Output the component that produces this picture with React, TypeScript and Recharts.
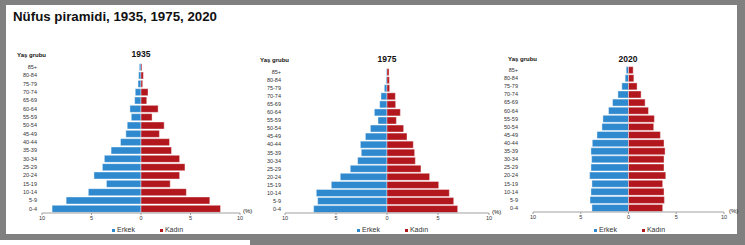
import { BarChart, Bar, XAxis, YAxis, Legend } from "recharts";

// age groups, top to bottom
const AGES = [
  "85+", "80-84", "75-79", "70-74", "65-69", "60-64", "55-59", "50-54", "45-49",
  "40-44", "35-39", "30-34", "25-29", "20-24", "15-19", "10-14", "5-9", "0-4",
];

// share of population (%), same order as AGES
const MALE_1935 = [0.17, 0.24, 0.3, 0.58, 0.64, 1.12, 0.98, 1.39, 1.53, 2.07, 3.02, 3.7, 3.9, 4.75, 3.49, 5.32, 7.56, 8.98];
const FEMALE_1935 = [0.1, 0.24, 0.17, 0.71, 0.58, 1.73, 1.12, 2.34, 1.86, 2.88, 3.08, 3.9, 4.44, 3.9, 2.95, 4.58, 6.95, 8.03];
const MALE_1975 = [0.07, 0.1, 0.26, 0.59, 0.72, 1.24, 0.88, 1.63, 2.12, 2.61, 2.52, 2.88, 3.6, 4.58, 5.46, 6.93, 6.8, 7.19];
const FEMALE_1975 = [0.2, 0.23, 0.26, 0.82, 0.85, 1.31, 0.92, 1.63, 1.96, 2.58, 2.71, 2.78, 3.33, 4.18, 5.07, 6.11, 6.54, 6.93];
const MALE_2020 = [0.24, 0.35, 0.7, 1.11, 1.67, 2.09, 2.68, 2.78, 3.3, 3.79, 3.93, 3.86, 3.93, 4.07, 3.83, 3.93, 4.03, 3.83];
const FEMALE_2020 = [0.49, 0.56, 0.9, 1.32, 1.74, 2.09, 2.71, 2.64, 3.34, 3.72, 3.83, 3.72, 3.72, 3.9, 3.58, 3.72, 3.76, 3.58];

const X_TICKS = [-10, -5, 0, 5, 10];

const BLUE = "#2F89CF";
const RED = "#B3171E";
const FONT = "'Liberation Sans', Arial, sans-serif";

const renderLegend = (props: any) => {
  const { payload } = props;
  return (
    <div style={{ display: "flex", gap: 25, height: 10, lineHeight: "10px", fontSize: 7, color: "#333", fontFamily: FONT }}>
      {payload.map((entry: any, i: number) => (
        <span key={`lg-${i}`} style={{ display: "flex", alignItems: "center" }}>
          <span style={{ width: 3, height: 3, background: entry.color, marginRight: 2 }} />
          {entry.value}
        </span>
      ))}
    </div>
  );
};

type PyramidProps = {
  male: number[];
  female: number[];
  left: number;
  width: number;
  margin: { top: number; right: number; left: number; bottom: number };
  yWidth: number;
  yGap: number;
  xHeight: number;
  legendLeft: number;
};

const Pyramid = ({ male, female, left, width, margin, yWidth, yGap, xHeight, legendLeft }: PyramidProps) => {
  const data = AGES.map((age, i) => ({ age, erkek: -male[i], kadin: female[i] }));
  return (
    <div style={{ position: "absolute", left, top: 0 }}>
      <BarChart
        width={width}
        height={240}
        data={data}
        layout="vertical"
        stackOffset="sign"
        barCategoryGap="8%"
        margin={margin}
      >
        <XAxis
          type="number"
          domain={[-10, 10]}
          ticks={X_TICKS}
          tickFormatter={(v: number) => String(Math.abs(v))}
          stroke="#A0A0A0"
          tickSize={2}
          tickMargin={1}
          height={xHeight}
          tick={{ fontSize: 5.5, fill: "#333", fontFamily: FONT }}
          allowDataOverflow
        />
        <YAxis
          type="category"
          dataKey="age"
          width={yWidth}
          axisLine={false}
          tickLine={false}
          tickSize={0}
          tickMargin={yGap}
          interval={0}
          tick={{ fontSize: 5.5, fill: "#333", fontFamily: FONT }}
        />
        <Legend content={renderLegend} wrapperStyle={{ left: legendLeft, width: "auto" }} />
        <Bar dataKey="erkek" name="Erkek" stackId="p" fill={BLUE} stroke="#fff" strokeWidth={0.4} isAnimationActive={false} />
        <Bar dataKey="kadin" name="Kadın" stackId="p" fill={RED} stroke="#fff" strokeWidth={0.4} isAnimationActive={false} />
      </BarChart>
    </div>
  );
};

const Txt = ({ x, y, size, bold, center, children }: any) => (
  <div
    style={{
      position: "absolute",
      left: x,
      top: y,
      transform: center ? "translate(-50%, -50%)" : "translate(0, -50%)",
      fontSize: size,
      lineHeight: 1,
      fontWeight: bold ? "bold" : "normal",
      whiteSpace: "nowrap",
      color: "#111",
      fontFamily: FONT,
    }}
  >
    {children}
  </div>
);

export default function App() {
  return (
    <div style={{ position: "absolute", left: 0, top: 0, width: 745, height: 245, background: "#fff", overflow: "hidden" }}>
      {/* grey frame */}
      <div style={{ position: "absolute", left: 0, top: 0, width: 745, height: 240, background: "#808080" }} />
      <div style={{ position: "absolute", left: 250, top: 240, width: 495, height: 5, background: "#808080" }} />
      <div style={{ position: "absolute", left: 6, top: 5, width: 731, height: 229, background: "#fff" }} />

      <Txt x={13} y={17} size={13.3} bold>Nüfus piramidi, 1935, 1975, 2020</Txt>

      <Pyramid male={MALE_1935} female={FEMALE_1935} left={0} width={260}
        margin={{ top: 63, right: 20, left: 2, bottom: 5 }} yWidth={40} yGap={5} xHeight={12} legendLeft={112} />
      <Pyramid male={MALE_1975} female={FEMALE_1975} left={250} width={260}
        margin={{ top: 68, right: 21, left: 2, bottom: 5 }} yWidth={33} yGap={4} xHeight={12} legendLeft={107} />
      <Pyramid male={MALE_2020} female={FEMALE_2020} left={495} width={245}
        margin={{ top: 66, right: 16, left: 2, bottom: 5 }} yWidth={36} yGap={15} xHeight={13} legendLeft={99} />

      <Txt x={141} y={53.5} size={8.5} bold center>1935</Txt>
      <Txt x={387} y={58.5} size={8.5} bold center>1975</Txt>
      <Txt x={628} y={58.5} size={8.5} bold center>2020</Txt>

      <Txt x={17} y={54.5} size={6} bold>Yaş grubu</Txt>
      <Txt x={260} y={60} size={6} bold>Yaş grubu</Txt>
      <Txt x={508} y={59} size={6} bold>Yaş grubu</Txt>

      <Txt x={243} y={211} size={6}>(%)</Txt>
      <Txt x={492} y={212} size={6}>(%)</Txt>
      <Txt x={729} y={211} size={6}>(%)</Txt>
    </div>
  );
}
